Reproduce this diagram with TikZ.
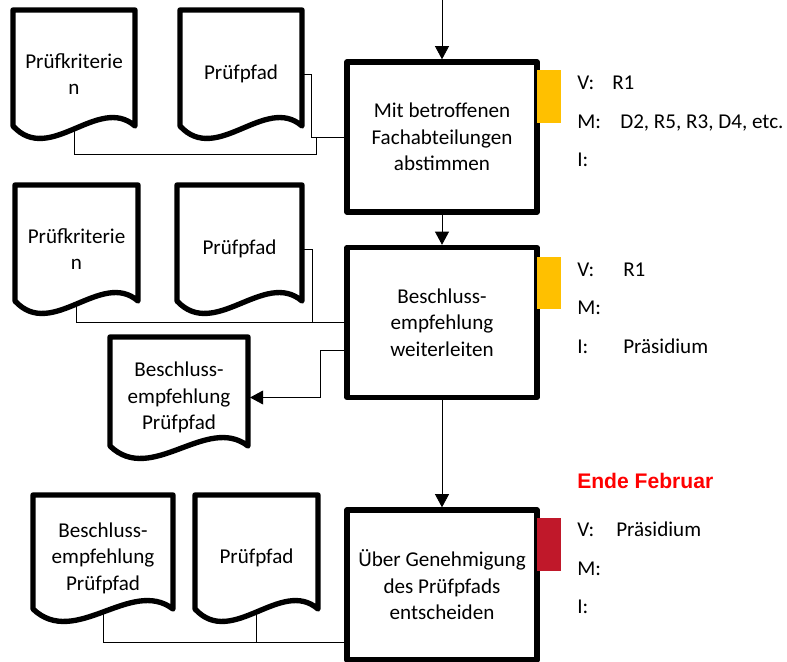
\documentclass[tikz,border=0pt]{standalone}
\usepackage{fontspec}
\setmainfont{Carlito}
\newfontfamily\arialfont{Liberation Sans}
\usetikzlibrary{arrows.meta,calc}

\definecolor{gelb}{HTML}{FFC000}
\definecolor{dunkelrot}{HTML}{C0182A}

% Dokument-Symbol: Name, x0, y0, x1, y1 (Ecke unten), Text
\newcommand{\dokument}[6]{%
  \draw[dokrand] (#2,#3) -- (#4,#3) -- (#4,#5)
    .. controls ({#4-0.3*(#4-#2)},{#5-32}) and ({#2+0.3*(#4-#2)},{#5+40}) .. (#2,#5) -- cycle;
  \node[doktext] (#1) at ({(#2+#4)/2},{(#3+#5)/2+6}) {#6};
  \coordinate (#1-w) at ({(#2+#4)/2},{#5+5});
  \coordinate (#1-r) at ({#4+2},{(#3+#5)/2+6});
}

\begin{document}
\begin{tikzpicture}[x=0.025cm, y=-0.025cm,
    schrift/.style={font=\fontsize{15}{18.8}\selectfont},
    schritt/.style={draw, line width=3.8pt, line join=round, minimum width=4.75cm, minimum height=3.75cm, align=center, schrift},
    dokrand/.style={line width=3.8pt, line join=round},
    doktext/.style={align=center, schrift},
    verbinder/.style={line width=0.6pt},
    pfeil/.style={verbinder, -{Triangle[length=0.33cm, width=0.35cm]}},
    rolle/.style={anchor=base west, inner sep=0pt, schrift},
    termin/.style={anchor=base west, inner sep=0pt, text=red, font=\arialfont\bfseries\fontsize{15}{18}\selectfont}]
    \useasboundingbox (0,0) rectangle (787,662);

    % Prozessschritte
    \node[schritt] (box1) at (442,137) {Mit betroffenen\\Fachabteilungen\\abstimmen};
    \node[schritt] (box2) at (442,322.5) {Beschluss-\\empfehlung\\weiterleiten};
    \node[schritt] (box3) at (442,585) {Über Genehmigung\\des Prüfpfads\\entscheiden};
    \coordinate (anfang) at (442,0);
    \coordinate (ende) at (442,662);

    % Dokumente
    \dokument{dok1a}{13}{10}{135}{126}{Prüfkriterie\\n}
    \dokument{dok1b}{180}{10}{302}{126}{Prüfpfad}
    \dokument{dok2a}{15}{185}{138}{301}{Prüfkriterie\\n}
    \dokument{dok2b}{177}{185}{302}{301}{Prüfpfad}
    \dokument{dok2c}{110}{337}{248}{446}{Beschluss-\\empfehlung\\Prüfpfad}
    \dokument{dok3a}{33}{495}{173}{609}{Beschluss-\\empfehlung\\Prüfpfad}
    \dokument{dok3b}{195}{495}{318}{609}{Prüfpfad}

    % Ablauf
    \draw[pfeil] (anfang) -- (box1);
    \draw[pfeil] (box1) -- (box2);
    \draw[pfeil] (box2) -- (box3);
    \draw[verbinder] (box3) -- (ende);

    % Eingaben und Ausgaben
    \draw[verbinder] (dok1a-w) -- ++(0,23) -| ($(box1.west)+(-28,0)$) -- (box1.west);
    \draw[verbinder] (dok1b-r) -| ($(box1.west)+(-33,0)$) -- (box1.west);
    \draw[verbinder] (dok2a-w) |- (box2.west);
    \draw[verbinder] (dok2b-r) -| ($(box2.west)+(-32,0)$);
    \draw[pfeil] ($(box2.west)+(0,28)$) -| ($(dok2c-r)+(70,0)$) -- (dok2c-r);
    \draw[verbinder] (dok3a-w) |- ($(box3.west)+(0,57)$);
    \draw[verbinder] (dok3b-w) |- ($(box3.west)+(0,57)$);

    % Status
    \fill[gelb] (537,70) rectangle (561,123);
    \fill[gelb] (537,257) rectangle (561,309);
    \fill[dunkelrot] (537,518) rectangle (561,571);

    % Rollen
    \node[rolle] (v1) at (577,90) {V:};
    \node[rolle] (v1wert) at (612,90) {R1};
    \node[rolle] (m1) at (577,129) {M:};
    \node[rolle] (m1wert) at (620,129) {D2, R5, R3, D4, etc.};
    \node[rolle] (i1) at (577,167) {I:};

    \node[rolle] (v2) at (577,276) {V:};
    \node[rolle] (v2wert) at (623,276) {R1};
    \node[rolle] (m2) at (577,314) {M:};
    \node[rolle] (i2) at (577,353) {I:};
    \node[rolle] (i2wert) at (623,353) {Präsidium};

    \node[termin] (frist) at (577,488) {Ende Februar};
    \node[rolle] (v3) at (577,536) {V:};
    \node[rolle] (v3wert) at (616,536) {Präsidium};
    \node[rolle] (m3) at (577,575) {M:};
    \node[rolle] (i3) at (577,613) {I:};
\end{tikzpicture}
\end{document}
